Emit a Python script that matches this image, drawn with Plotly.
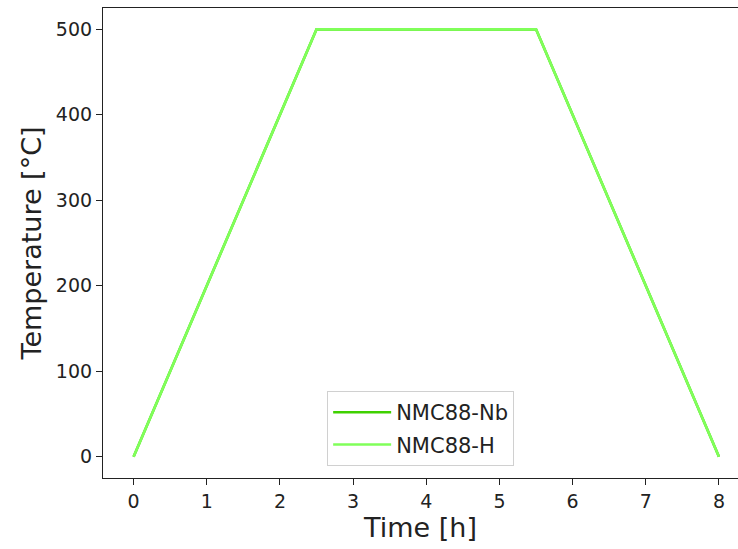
import plotly.graph_objects as go

time_h = [0, 2.5, 5.5, 8]
temp_nb = [0, 500, 500, 0]
temp_h = [0, 500, 500, 0]
series_names = ["NMC88-Nb", "NMC88-H"]
x_ticks = [0, 1, 2, 3, 4, 5, 6, 7, 8]
y_ticks = [0, 100, 200, 300, 400, 500]

fig = go.Figure()
fig.add_trace(go.Scatter(x=time_h, y=temp_nb, mode="lines", name=series_names[0],
                         legendgroup="a",
                         line=dict(color="#3fd100", width=2.6)))
fig.add_trace(go.Scatter(x=time_h, y=temp_h, mode="lines", name=series_names[1],
                         legendgroup="b",
                         line=dict(color="#80ff5a", width=2.6)))

axis_common = dict(showgrid=False, zeroline=False, showline=True, linecolor="#222",
                   linewidth=1.2, ticks="outside", ticklen=6, tickwidth=1.2,
                   tickcolor="#222", tickfont=dict(size=19, color="#222"))

fig.update_layout(
    width=738, height=549,
    margin=dict(l=103, r=0, t=8, b=71),
    paper_bgcolor="white", plot_bgcolor="white",
    font=dict(family="DejaVu Sans", color="#222"),
    xaxis=dict(range=[-0.418, 8.26], tickvals=x_ticks, mirror=True,
               title=dict(text="Time [h]", font=dict(size=27), standoff=6), **axis_common),
    yaxis=dict(range=[-25, 525], tickvals=y_ticks, mirror=False,
               title=dict(text="Temperature [°C]", font=dict(size=27), standoff=6), **axis_common),
    legend=dict(x=0.353, y=0.185, xanchor="left", yanchor="top",
                bgcolor="white", bordercolor="#d0d0d0", borderwidth=1,
                font=dict(size=21, color="#222"), itemwidth=58,
                traceorder="grouped", tracegroupgap=2),
    showlegend=True,
)

fig.write_html("out.html")
